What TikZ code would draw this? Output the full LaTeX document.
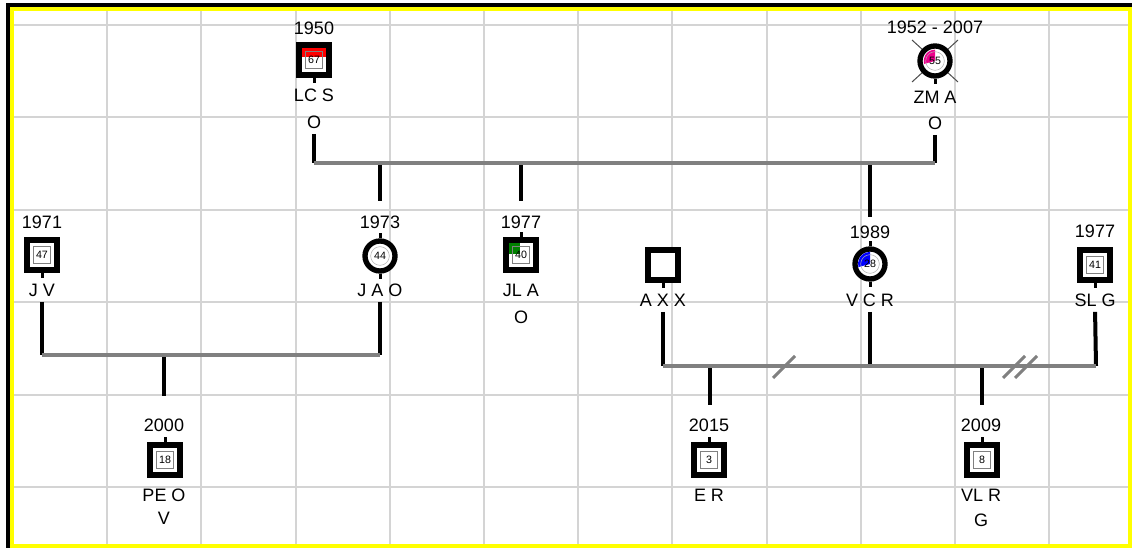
\documentclass[tikz,border=0pt]{standalone}
\usepackage{fontspec}
\setmainfont{Liberation Sans}
\usepackage{xcolor}
\definecolor{gridgrey}{HTML}{D4D4D4}
\definecolor{bargrey}{HTML}{808080}
\definecolor{frameyellow}{HTML}{FFFF00}
\tikzset{
  lbl/.style={inner sep=1pt, font=\fontsize{13.5}{15}\selectfont},
  nr/.style={inner sep=0pt, font=\fontsize{8}{9}\selectfont},
  male/.style={draw, line width=4.5pt, fill=white, minimum size=22.5pt, inner sep=0pt},
  female/.style={circle, draw, line width=4pt, fill=white, minimum size=22.5pt, inner sep=0pt},
  numbox/.style={nr, draw=black!50, line width=0.4pt, minimum size=12.5pt},
  numring/.style={nr, circle, draw=black!30, line width=0.4pt, minimum size=14pt},
  drop/.style={line width=3pt},
  namedrop/.style={line width=3pt, shorten <=3pt},
  bar/.style={bargrey, line width=3pt},
  stub/.style={line width=2.25pt},
  cutmark/.style={bargrey, line width=2.25pt},
  gridline/.style={gridgrey, line width=1.5pt}
}
\begin{document}
\begin{tikzpicture}[x=0.75pt,y=-0.75pt]
\useasboundingbox (0,0) rectangle (1132,548);
\fill[white] (0,0) rectangle (1132,548);
\foreach \x in {0,...,10} \draw[gridline] ({107.2+94.2*\x},11) -- ({107.2+94.2*\x},545);
\foreach \y in {0,...,5} \draw[gridline] (14,{25+92.4*\y}) -- (1129,{25+92.4*\y});
\draw[line width=3pt] (8,548) -- (8,5) -- (1132,5);
\draw[frameyellow, line width=3pt] (12,9) rectangle (1130,546);

% parents at the top
\node[lbl] (lcsy) at (314,28) {1950};
\node[male] (lcs) at (314,60) {};
\fill[red] ([shift={(-12,-12)}]lcs.center) rectangle ([shift={(12,-3)}]lcs.center);
\node[numbox] (lcsnr) at (lcs) {67};
\draw[stub] (lcs.south) -- ++(0,5);
\node[lbl] (lcsn) at (314,95) {LC S};
\node[lbl] (lcsn2) at (314,122) {O};

\node[lbl] (zmay) at (935,27) {1952 - 2007};
\coordinate (zmapos) at (935,61);
\draw[black!70, line width=0.75pt] ([shift={(-23,-21)}]zmapos) -- ([shift={(23,21)}]zmapos);
\draw[black!70, line width=0.75pt] ([shift={(23,-21)}]zmapos) -- ([shift={(-23,21)}]zmapos);
\node[female] (zma) at (zmapos) {};
\fill[magenta] (zma.center) -- ++(90:8.5pt) arc[start angle=90, end angle=195, radius=8.5pt] -- cycle;
\node[numring] (zmanr) at (zma) {55};
\draw[stub] (zma.south) -- ++(0,5);
\node[lbl] (zman) at (935,97) {ZM A};
\node[lbl] (zman2) at (935,123) {O};

\coordinate (tl) at (314,163);
\coordinate (tr) at (935,163);
\coordinate (k1) at (380,163);
\coordinate (k2) at (521,163);
\coordinate (k3) at (870,163);
\draw[namedrop] (lcsn2.south) -- (tl);
\draw[namedrop] (zman2.south) -- (tr);
\draw[drop] (k1) -- (380,201);
\draw[drop] (k2) -- (521,201);
\draw[drop] (k3) -- (870,217);
\draw[bar] (tl) -- (tr);

% middle row
\node[lbl] (jvy) at (42,222) {1971};
\node[male] (jv) at (42,255) {};
\node[numbox] (jvnr) at (jv) {47};
\draw[stub] (jv.south) -- ++(0,5);
\node[lbl] (jvn) at (42,290) {J V};

\node[lbl] (jaoy) at (380,222) {1973};
\node[female] (jao) at (380,256) {};
\node[numring] (jaonr) at (jao) {44};
\draw[stub] (jao.north) -- ++(0,-5);
\draw[stub] (jao.south) -- ++(0,5);
\node[lbl] (jaon) at (380,290) {J A O};

\node[lbl] (jlay) at (521,222) {1977};
\node[male] (jla) at (521,255) {};
\fill[green!50!black] ([shift={(-12,-12)}]jla.center) rectangle ([shift={(-1,-1)}]jla.center);
\node[numbox] (jlanr) at (jla) {40};
\draw[stub] (jla.north) -- ++(0,-5);
\node[lbl] (jlan) at (521,290) {JL A};
\node[lbl] (jlan2) at (521,317) {O};

\coordinate (ml) at (42,355);
\coordinate (mr) at (380,355);
\coordinate (k4) at (164,355);
\draw[namedrop] (jvn.south) -- (ml);
\draw[namedrop] (jaon.south) -- (mr);
\draw[drop] (k4) -- (164,396);
\draw[bar] (ml) -- (mr);

\node[lbl] (peoy) at (164,425) {2000};
\node[male] (peo) at (165,460) {};
\node[numbox] (peonr) at (peo) {18};
\draw[stub] (peo.north) -- ++(0,-5);
\node[lbl] (peon) at (164,495) {PE O};
\node[lbl] (peon2) at (164,518) {V};

% right family
\node[male] (axx) at (663,265) {};
\draw[stub] (axx.south) -- ++(0,5);
\node[lbl] (axxn) at (663,300) {A X X};

\node[lbl] (vcry) at (870,232) {1989};
\node[female] (vcr) at (870,264) {};
\fill[blue] (vcr.center) -- ++(90:9pt) arc[start angle=90, end angle=195, radius=9pt] -- cycle;
\node[numring] (vcrnr) at (vcr) {28};
\draw[stub] (vcr.north) -- ++(0,-5);
\draw[stub] (vcr.south) -- ++(0,5);
\node[lbl] (vcrn) at (870,300) {V C R};

\node[lbl] (slgy) at (1095,231) {1977};
\node[male] (slg) at (1095,265) {};
\node[numbox] (slgnr) at (slg) {41};
\draw[stub] (slg.south) -- ++(0,5);
\node[lbl] (slgn) at (1095,300) {SL G};

\coordinate (bl) at (663,366);
\coordinate (bm) at (870,366);
\coordinate (br) at (1096,366);
\coordinate (k5) at (710,366);
\coordinate (k6) at (982,366);
\draw[namedrop] (axxn.south) -- (bl);
\draw[namedrop] (vcrn.south) -- (bm);
\draw[namedrop] (slgn.south) -- (br);
\draw[drop] (k5) -- (710,405);
\draw[drop] (k6) -- (982,405);
\draw[bar] (bl) -- (br);
\draw[cutmark] (773,378) -- (795,356);
\draw[cutmark] (1003,378) -- (1025,356);
\draw[cutmark] (1015,378) -- (1037,356);

\node[lbl] (ery) at (709,425) {2015};
\node[male] (er) at (709,460) {};
\node[numbox] (ernr) at (er) {3};
\draw[stub] (er.north) -- ++(0,-5);
\node[lbl] (ern) at (709,495) {E R};

\node[lbl] (vlry) at (981,425) {2009};
\node[male] (vlr) at (982,460) {};
\node[numbox] (vlrnr) at (vlr) {8};
\draw[stub] (vlr.north) -- ++(0,-5);
\node[lbl] (vlrn) at (981,495) {VL R};
\node[lbl] (vlrn2) at (981,520) {G};
\end{tikzpicture}
\end{document}
